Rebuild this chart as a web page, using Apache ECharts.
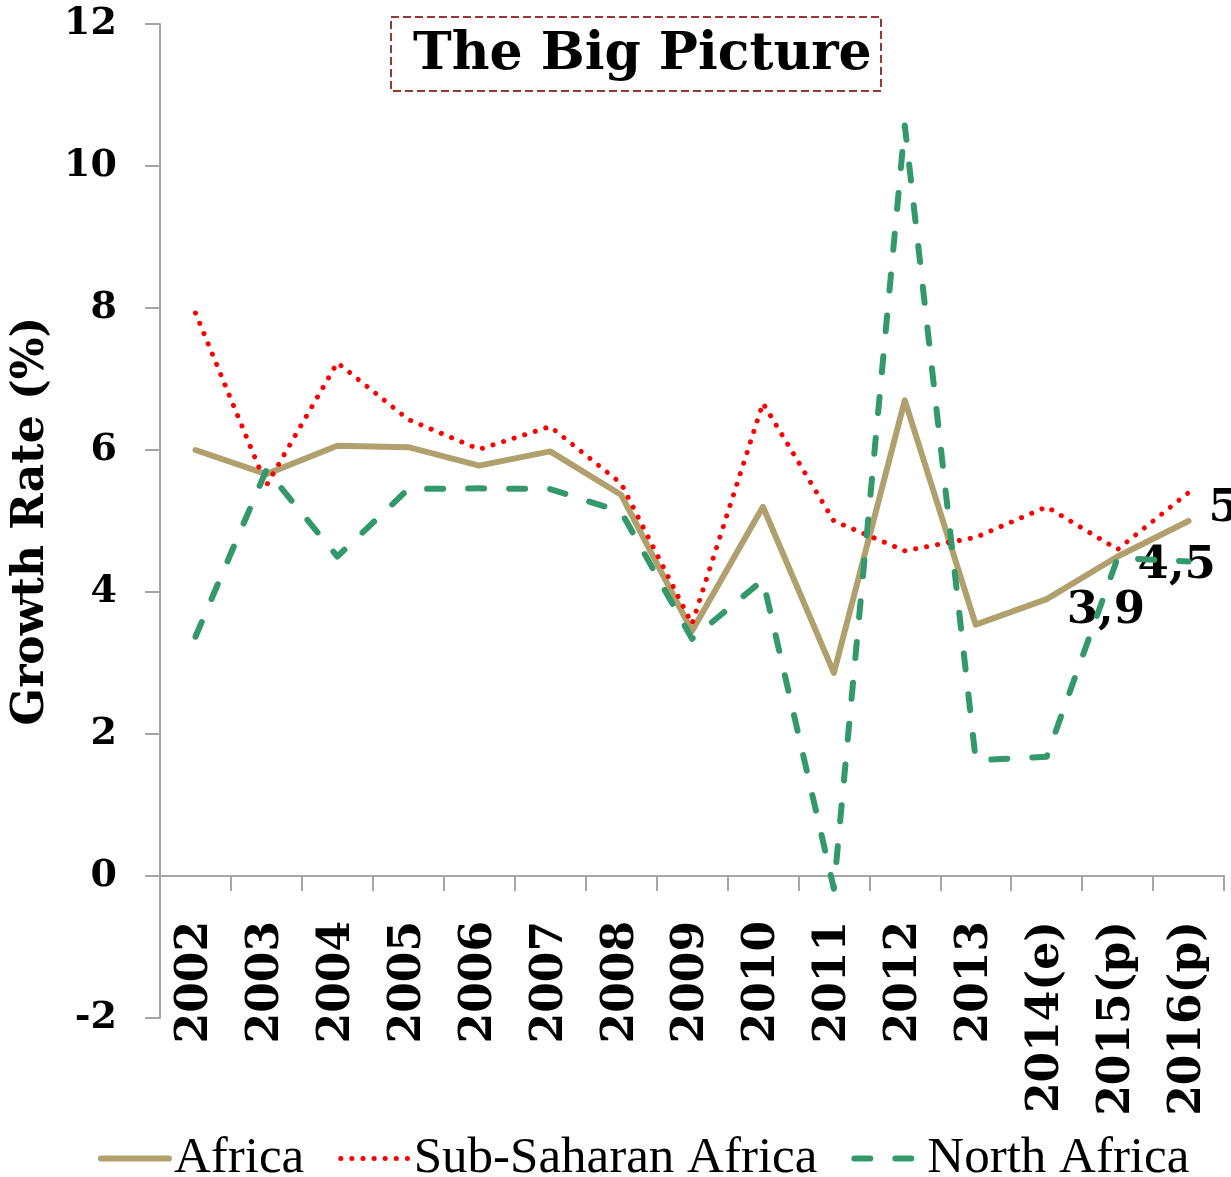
<!DOCTYPE html>
<html>
<head>
<meta charset="utf-8">
<script src="https://cdn.jsdelivr.net/npm/echarts@6/dist/echarts.min.js"></script>
<style>
html,body{margin:0;padding:0;background:#fff;}
#chart{width:1231px;height:1177px;}
</style>
</head>
<body>
<div id="chart"></div>
<script>
const categories = ['2002','2003','2004','2005','2006','2007','2008','2009','2010','2011','2012','2013','2014(e)','2015(p)','2016(p)'];
const africa = [6.0, 5.66, 6.06, 6.04, 5.78, 5.98, 5.37, 3.45, 5.2, 2.86, 6.7, 3.54, 3.9, 4.5, 5.0];
const subSaharan = [7.93, 5.5, 7.23, 6.43, 6.01, 6.33, 5.53, 3.55, 6.66, 5.0, 4.58, 4.77, 5.2, 4.6, 5.4];
const northAfrica = [3.37, 5.72, 4.5, 5.45, 5.46, 5.45, 5.13, 3.34, 4.17, -0.18, 10.57, 1.63, 1.68, 4.48, 4.43];
const labelledYears = ['2014(e)', '2015(p)', '2016(p)'];
const seriesNames = ['Africa', 'Sub-Saharan Africa', 'North Africa'];
const yTicks = { min: -2, max: 12, interval: 2 };

const boldFont = 'DejaVu Serif';
const colors = { africa: '#AFA06E', ssa: '#FF0000', na: '#33996A' };
const styles = {
  africa: { color: colors.africa, width: 6, type: 'solid', cap: 'round', join: 'round' },
  ssa: { color: colors.ssa, width: 5, type: [0.1, 11], cap: 'round', join: 'round' },
  na: { color: colors.na, width: 6, type: [16, 25], cap: 'round', join: 'round' }
};
// label nudges (presentation only), keyed by category
const labelNudge = { '2014(e)': [0, 12], '2015(p)': [0, 10], '2016(p)': [0, -12] };

const chart = echarts.init(document.getElementById('chart'));

const africaData = africa.map((v, i) =>
  labelledYears.includes(categories[i])
    ? { value: v, label: { show: true, offset: labelNudge[categories[i]] } }
    : v
);

chart.setOption({
  animation: false,
  backgroundColor: '#fff',
  title: {
    text: 'The Big Picture',
    left: 391,
    top: 17,
    padding: [12, 10, 10, 22],
    borderColor: '#953735',
    borderWidth: 2,
    borderType: 'dashed',
    textStyle: { fontFamily: boldFont, fontWeight: 'bold', fontSize: 52, color: '#000' }
  },
  grid: { left: 160, right: 7, top: 24, bottom: 159, containLabel: false, outerBoundsMode: 'none' },
  legend: {
    data: [
      { name: seriesNames[0], lineStyle: styles.africa },
      { name: seriesNames[1], lineStyle: styles.ssa },
      { name: seriesNames[2], lineStyle: styles.na }
    ],
    left: 93,
    top: 1128,
    itemWidth: 68,
    itemHeight: 14,
    itemGap: 34,
    itemStyle: { opacity: 0 },
    textStyle: { fontFamily: 'Liberation Serif', fontSize: 51, color: '#000' }
  },
  xAxis: {
    type: 'category',
    data: categories,
    boundaryGap: true,
    axisLine: { onZero: true, lineStyle: { color: '#A6A6A6', width: 2 } },
    axisTick: { show: true, length: 15, interval: 0, lineStyle: { color: '#A6A6A6', width: 2 } },
    axisLabel: {
      interval: 0, rotate: 90, margin: -97,
      fontFamily: boldFont, fontWeight: 'bold', fontSize: 44, color: '#000'
    },
    splitLine: { show: false }
  },
  yAxis: {
    type: 'value',
    min: yTicks.min, max: yTicks.max, interval: yTicks.interval,
    name: 'Growth Rate (%)',
    nameLocation: 'middle',
    nameGap: 92,
    nameRotate: 90,
    nameTextStyle: { fontFamily: boldFont, fontWeight: 'bold', fontSize: 44, color: '#000' },
    axisLine: { show: true, lineStyle: { color: '#A6A6A6', width: 2 } },
    axisTick: { show: true, length: 15, lineStyle: { color: '#A6A6A6', width: 2 } },
    axisLabel: { margin: 43, fontFamily: boldFont, fontWeight: 'bold', fontSize: 38, color: '#000' },
    splitLine: { show: false }
  },
  series: [
    {
      name: seriesNames[0], type: 'line', data: africaData,
      symbol: 'circle', symbolSize: 0, showSymbol: true,
      lineStyle: styles.africa,
      itemStyle: { color: colors.africa },
      label: {
        show: false, position: 'right', distance: 20,
        fontFamily: boldFont, fontWeight: 'bold', fontSize: 45, color: '#000',
        formatter: p => String(p.value).replace('.', ',')
      },
      z: 2
    },
    {
      name: seriesNames[1], type: 'line', data: subSaharan,
      symbol: 'none', showSymbol: false,
      lineStyle: styles.ssa,
      itemStyle: { color: colors.ssa },
      z: 3
    },
    {
      name: seriesNames[2], type: 'line', data: northAfrica,
      symbol: 'none', showSymbol: false,
      lineStyle: styles.na,
      itemStyle: { color: colors.na },
      z: 4
    }
  ]
});
</script>
</body>
</html>
